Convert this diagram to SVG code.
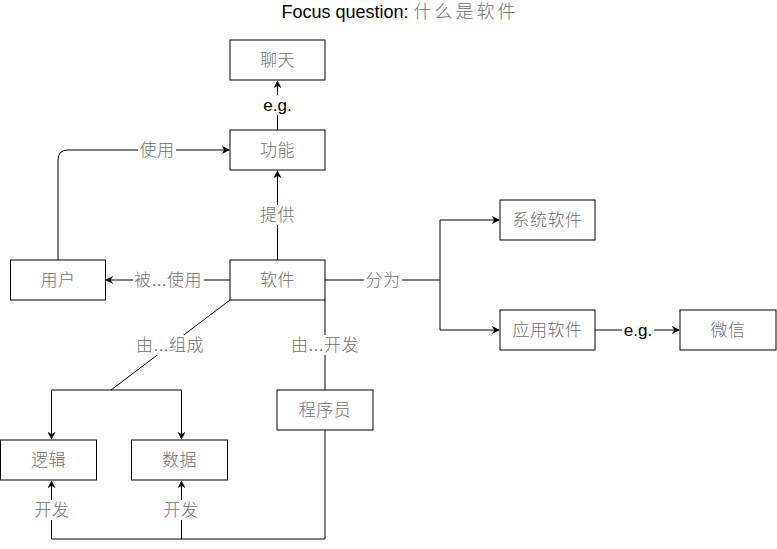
<svg xmlns="http://www.w3.org/2000/svg" width="777" height="549" viewBox="0 0 777 549">
<style>
.box{fill:#fff;stroke:#000;stroke-width:1}
.t{font-family:"Liberation Sans","Noto Sans CJK SC",sans-serif;font-size:17px;font-weight:300;letter-spacing:0.5px;fill:#707070;text-anchor:middle;dominant-baseline:central}
.k{fill:#000;font-weight:400;letter-spacing:0}
.ln{fill:none;stroke:#000;stroke-width:1}
.lb{fill:#fff}
</style>
<defs>
<marker id="a" viewBox="0 0 10 10" refX="9" refY="5" markerWidth="8" markerHeight="8" orient="auto" markerUnits="userSpaceOnUse">
<path d="M0,0 L10,5 L0,10 L3,5 Z" fill="#000"/>
</marker>
</defs>
<rect width="777" height="549" fill="#fff"/>
<text class="t" x="400" y="12" style="font-size:18px"><tspan class="k">Focus question: </tspan><tspan style="letter-spacing:3px">什么是软件</tspan></text>

<g id="connectors">
<path class="ln" d="M277.5,130 V81" marker-end="url(#a)"/>
<path class="ln" d="M277.5,260 V171" marker-end="url(#a)"/>
<path class="ln" d="M58,260 V160 Q58,150 68,150 H229" marker-end="url(#a)"/>
<path class="ln" d="M230,280 H106" marker-end="url(#a)"/>
<path class="ln" d="M325,280 H440 V220 H499" marker-end="url(#a)"/>
<path class="ln" d="M440,280 V330 H499" marker-end="url(#a)"/>
<path class="ln" d="M595,330 H679" marker-end="url(#a)"/>
<path class="ln" d="M230,300 L111,390"/>
<path class="ln" d="M51.5,390 H181.5"/>
<path class="ln" d="M51.5,390 V439" marker-end="url(#a)"/>
<path class="ln" d="M181.5,390 V439" marker-end="url(#a)"/>
<path class="ln" d="M325,300 V390"/>
<path class="ln" d="M325,430 V539 H51.5 V481" marker-end="url(#a)"/>
<path class="ln" d="M181.5,539 V481" marker-end="url(#a)"/>
<rect class="lb" x="262" y="95" width="31" height="20"/>
<text class="t k" x="277.5" y="105">e.g.</text>
<rect class="lb" x="259" y="205" width="37" height="20"/>
<text class="t" x="277.5" y="215">提供</text>
<rect class="lb" x="138" y="140" width="38" height="20"/>
<text class="t" x="157" y="150">使用</text>
<rect class="lb" x="133" y="270" width="71" height="20"/>
<text class="t" x="168" y="280">被...使用</text>
<rect class="lb" x="364" y="270" width="38" height="20"/>
<text class="t" x="383" y="280">分为</text>
<rect class="lb" x="622" y="320" width="32" height="20"/>
<text class="t k" x="638" y="330">e.g.</text>
<rect class="lb" x="135" y="335" width="71" height="20"/>
<text class="t" x="170" y="345">由...组成</text>
<rect class="lb" x="290" y="335" width="71" height="20"/>
<text class="t" x="325" y="345">由...开发</text>
<rect class="lb" x="33" y="500" width="38" height="20"/>
<text class="t" x="52" y="510">开发</text>
<rect class="lb" x="162" y="500" width="38" height="20"/>
<text class="t" x="181" y="510">开发</text>
</g>

<g id="n-liaotian"><rect class="box" x="230" y="40" width="95" height="40"/><text class="t" x="277.5" y="60">聊天</text></g>
<g id="n-gongneng"><rect class="box" x="230" y="130" width="95" height="40"/><text class="t" x="277.5" y="150">功能</text></g>
<g id="n-ruanjian"><rect class="box" x="230" y="260" width="95" height="40"/><text class="t" x="277.5" y="280">软件</text></g>
<g id="n-yonghu"><rect class="box" x="10.5" y="260" width="95" height="40"/><text class="t" x="58" y="280">用户</text></g>
<g id="n-xitong"><rect class="box" x="500" y="200" width="95" height="40"/><text class="t" x="547.5" y="220">系统软件</text></g>
<g id="n-yingyong"><rect class="box" x="500" y="310" width="95" height="40"/><text class="t" x="547.5" y="330">应用软件</text></g>
<g id="n-weixin"><rect class="box" x="680" y="310" width="96" height="40"/><text class="t" x="728" y="330">微信</text></g>
<g id="n-chengxuyuan"><rect class="box" x="277" y="390" width="96" height="40"/><text class="t" x="325" y="410">程序员</text></g>
<g id="n-luoji"><rect class="box" x="0.5" y="440" width="96" height="40"/><text class="t" x="48.5" y="460">逻辑</text></g>
<g id="n-shuju"><rect class="box" x="131.5" y="440" width="96" height="40"/><text class="t" x="179.5" y="460">数据</text></g>
</svg>
